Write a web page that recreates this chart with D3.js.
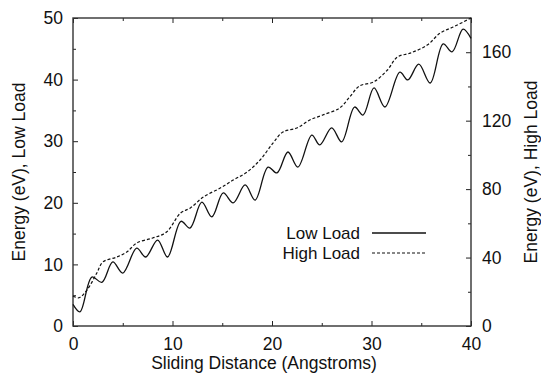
<!DOCTYPE html>
<html>
<head>
<meta charset="utf-8">
<script src="https://cdn.jsdelivr.net/npm/d3@7"></script>
<style>
  body { margin: 0; background: #fff; }
  svg { display: block; font-family: "Liberation Sans", Arial, sans-serif; }
</style>
</head>
<body>
<div id="chart"></div>
<script>
// sliding distance (Angstroms) and energy (eV)
var lowX = [0, 0.7, 1.9, 2.9, 4.0, 5.0, 6.4, 7.3, 8.5, 9.5, 10.85, 11.75, 12.95, 13.95, 15.1, 16.1,
            17.3, 18.3, 19.6, 20.5, 21.6, 22.6, 24.0, 24.8, 26.0, 27.0, 28.3, 29.15, 30.25, 31.35,
            32.85, 33.65, 34.75, 35.9, 37.2, 38.1, 39.2, 40];
var lowY = [3.5, 2.3, 7.95, 7.1, 10.4, 8.6, 12.65, 11.2, 13.95, 11.2, 17.0, 15.9, 20.1, 17.7, 21.6, 20.0,
            22.9, 20.45, 25.8, 24.85, 28.25, 25.8, 31.0, 29.4, 32.15, 29.9, 35.55, 34.25, 38.65, 35.55,
            41.2, 39.95, 42.5, 39.45, 45.8, 44.5, 48.2, 46.7];

var highX = [0, 0.6, 1.4, 2.4, 3.0, 4.4, 5.4, 6.4, 8.0, 9.4, 10.8, 11.8, 13.1, 14.8, 16.1, 17.5,
             18.8, 20.1, 21.1, 22.5, 23.8, 25.1, 26.8, 27.8, 28.8, 30.2, 31.6, 32.6, 33.9, 35.6,
             36.9, 38.2, 39.6, 40];
var highY = [17.5, 16.5, 21.0, 31.0, 37.4, 40.3, 43.2, 48.5, 51.4, 54.9, 66.0, 69.0, 75.4, 80.6, 85.3, 90.0,
             97.0, 106.9, 113.4, 115.7, 120.4, 123.3, 127.4, 133.8, 140.3, 142.6, 149.6, 157.2, 159.5, 164.2,
             171.2, 174.7, 178.8, 180];

var xTicks = [0, 10, 20, 30, 40];
var leftTicks = [0, 10, 20, 30, 40, 50];
var rightTicks = [0, 40, 80, 120, 160];
var seriesNames = ["Low Load", "High Load"];

var width = 541, height = 381;
var margin = {top: 18, right: 70, bottom: 55, left: 73};
var fs = 17.5;

var svg = d3.select("#chart").append("svg")
    .attr("width", width)
    .attr("height", height);

var x = d3.scaleLinear().domain([0, 40]).range([margin.left, width - margin.right]);
var yL = d3.scaleLinear().domain([0, 50]).range([height - margin.bottom, margin.top]);
var yR = d3.scaleLinear().domain([0, 180]).range([height - margin.bottom, margin.top]);

var x0 = margin.left, x1 = width - margin.right;
var y0 = height - margin.bottom, y1 = margin.top;

function styleAxis(g) {
  g.select(".domain").remove();
  g.selectAll(".tick line").attr("stroke", "#222").attr("stroke-width", 1);
  g.selectAll(".tick text").attr("fill", "#111").attr("font-size", fs)
    .attr("font-family", "Liberation Sans, Arial, sans-serif");
}

// bottom
svg.append("g").attr("transform", "translate(0," + y0 + ")")
  .call(d3.axisBottom(x).tickValues(d3.range(5, 40, 10)).tickSizeInner(-3).tickSizeOuter(0).tickFormat(""))
  .call(styleAxis);
svg.append("g").attr("transform", "translate(0," + y0 + ")")
  .call(d3.axisBottom(x).tickValues(xTicks).tickSizeInner(-5).tickSizeOuter(0).tickPadding(12))
  .call(styleAxis);
// top
svg.append("g").attr("transform", "translate(0," + y1 + ")")
  .call(d3.axisTop(x).tickValues(d3.range(5, 40, 10)).tickSizeInner(-3).tickSizeOuter(0).tickFormat(""))
  .call(styleAxis);
svg.append("g").attr("transform", "translate(0," + y1 + ")")
  .call(d3.axisTop(x).tickValues(xTicks).tickSizeInner(-5).tickSizeOuter(0).tickFormat(""))
  .call(styleAxis);
// left
svg.append("g").attr("transform", "translate(" + x0 + ",0)")
  .call(d3.axisLeft(yL).tickValues(d3.range(5, 50, 10)).tickSizeInner(-3).tickSizeOuter(0).tickFormat(""))
  .call(styleAxis);
svg.append("g").attr("transform", "translate(" + x0 + ",0)")
  .call(d3.axisLeft(yL).tickValues(leftTicks).tickSizeInner(-5).tickSizeOuter(0).tickPadding(10))
  .call(styleAxis);
// right
svg.append("g").attr("transform", "translate(" + x1 + ",0)")
  .call(d3.axisRight(yR).tickValues(d3.range(20, 180, 40)).tickSizeInner(-3).tickSizeOuter(0).tickFormat(""))
  .call(styleAxis);
svg.append("g").attr("transform", "translate(" + x1 + ",0)")
  .call(d3.axisRight(yR).tickValues(rightTicks).tickSizeInner(-5).tickSizeOuter(0).tickPadding(11))
  .call(styleAxis);

// frame
svg.append("rect")
  .attr("x", x0).attr("y", y1)
  .attr("width", x1 - x0).attr("height", y0 - y1)
  .attr("fill", "none")
  .attr("stroke", "#333")
  .attr("stroke-width", 1.4);

// curves
var lowData = lowX.map(function(d, i) { return [d, lowY[i]]; });
var highData = highX.map(function(d, i) { return [d, highY[i]]; });

var lowLine = d3.line()
  .x(function(d) { return x(d[0]); })
  .y(function(d) { return yL(d[1]); })
  .curve(d3.curveCatmullRom.alpha(0.5));

var highLine = d3.line()
  .x(function(d) { return x(d[0]); })
  .y(function(d) { return yR(d[1]); })
  .curve(d3.curveCatmullRom.alpha(0.5));

svg.append("path")
  .datum(highData)
  .attr("d", highLine)
  .attr("fill", "none")
  .attr("stroke", "#111")
  .attr("stroke-width", 1.2)
  .attr("stroke-dasharray", "3,2");

svg.append("path")
  .datum(lowData)
  .attr("d", lowLine)
  .attr("fill", "none")
  .attr("stroke", "#111")
  .attr("stroke-width", 1.3);

// legend
var legend = svg.append("g");
seriesNames.forEach(function(name, i) {
  var ly = 233 + i * 20;
  legend.append("text")
    .attr("x", 360).attr("y", ly + 6)
    .attr("text-anchor", "end")
    .attr("font-size", 17)
    .attr("fill", "#111")
    .text(name);
  legend.append("line")
    .attr("x1", 372).attr("x2", 426)
    .attr("y1", ly).attr("y2", ly)
    .attr("stroke", "#111")
    .attr("stroke-width", i === 0 ? 1.3 : 1.2)
    .attr("stroke-dasharray", i === 0 ? null : "3,2");
});

// axis titles
svg.append("text")
  .attr("x", (x0 + x1) / 2 - 8).attr("y", 369)
  .attr("text-anchor", "middle")
  .attr("font-size", fs)
  .attr("fill", "#111")
  .text("Sliding Distance (Angstroms)");

svg.append("text")
  .attr("transform", "translate(25," + ((y0 + y1) / 2) + ") rotate(-90)")
  .attr("text-anchor", "middle")
  .attr("font-size", fs)
  .attr("fill", "#111")
  .text("Energy (eV), Low Load");

svg.append("text")
  .attr("transform", "translate(537," + ((y0 + y1) / 2) + ") rotate(-90)")
  .attr("text-anchor", "middle")
  .attr("font-size", fs)
  .attr("fill", "#111")
  .text("Energy (eV), High Load");
</script>
</body>
</html>
